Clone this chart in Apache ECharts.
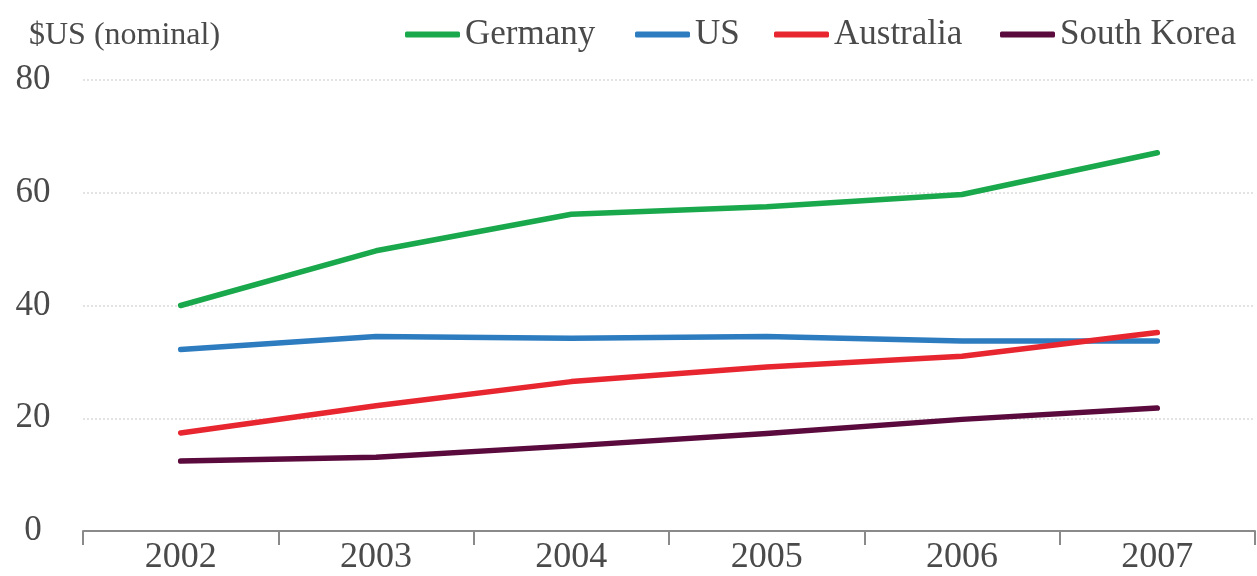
<!DOCTYPE html>
<html>
<head>
<meta charset="utf-8">
<script src="https://cdn.jsdelivr.net/npm/echarts@6/dist/echarts.min.js"></script>
<style>
html,body{margin:0;padding:0;background:#fff;}
#chart{width:1257px;height:576px;}
</style>
</head>
<body>
<div id="chart"></div>
<script>
const years = ['2002', '2003', '2004', '2005', '2006', '2007'];
const germany = [40, 49.7, 56.2, 57.5, 59.7, 67.1];
const us = [32.2, 34.5, 34.2, 34.5, 33.7, 33.7];
const australia = [17.4, 22.2, 26.5, 29.1, 31.0, 35.2];
const southKorea = [12.4, 13.1, 15.1, 17.3, 19.8, 21.8];
const yTicks = { min: 0, max: 80, interval: 20 };
const unitLabel = '$US (nominal)';

const FONT = '"Liberation Serif", "DejaVu Serif", serif';
const TXT = '#4a4a4a';
const colors = { Germany: '#1aa84c', US: '#2d7cc0', Australia: '#e82630', 'South Korea': '#5a0a3c' };

function legendAt(name, left) {
  return {
    data: [name], left: left, top: 17, itemWidth: 55, itemHeight: 6, itemGap: 0,
    icon: 'roundRect', padding: 0,
    textStyle: { fontFamily: FONT, fontSize: 35, color: TXT, padding: [0, 0, 0, 0] },
    selectedMode: false
  };
}
function mk(name, data) {
  return {
    name: name, type: 'line', data: data, symbol: 'none',
    lineStyle: { width: 5.5, color: colors[name], cap: 'round', join: 'round' },
    itemStyle: { color: colors[name] }
  };
}

const chart = echarts.init(document.getElementById('chart'), null, { renderer: 'canvas' });
chart.setOption({
  animation: false,
  backgroundColor: '#fff',
  title: {
    text: unitLabel, left: 24, top: 15,
    textStyle: { fontFamily: FONT, fontSize: 32, fontWeight: 'normal', color: TXT }
  },
  legend: [legendAt('Germany', 405), legendAt('US', 635), legendAt('Australia', 774), legendAt('South Korea', 1000)],
  grid: { left: 83, right: 2, top: 80, bottom: 45, containLabel: false },
  xAxis: {
    type: 'category', data: years, boundaryGap: true,
    axisLine: { show: true, lineStyle: { color: '#8a8a8a', width: 2 } },
    axisTick: { show: true, length: 14, lineStyle: { color: '#8a8a8a', width: 2 } },
    axisLabel: { fontFamily: FONT, fontSize: 36, color: TXT, margin: 9 }
  },
  yAxis: {
    type: 'value', min: yTicks.min, max: yTicks.max, interval: yTicks.interval,
    axisLine: { show: false }, axisTick: { show: false },
    axisLabel: { fontFamily: FONT, fontSize: 35, color: TXT, margin: 50, align: 'center', padding: [6, 0, 0, 0] },
    splitLine: { show: true, lineStyle: { color: '#dadada', width: 1.5, type: [2, 2] } }
  },
  series: [mk('Germany', germany), mk('US', us), mk('Australia', australia), mk('South Korea', southKorea)]
});
</script>
</body>
</html>
